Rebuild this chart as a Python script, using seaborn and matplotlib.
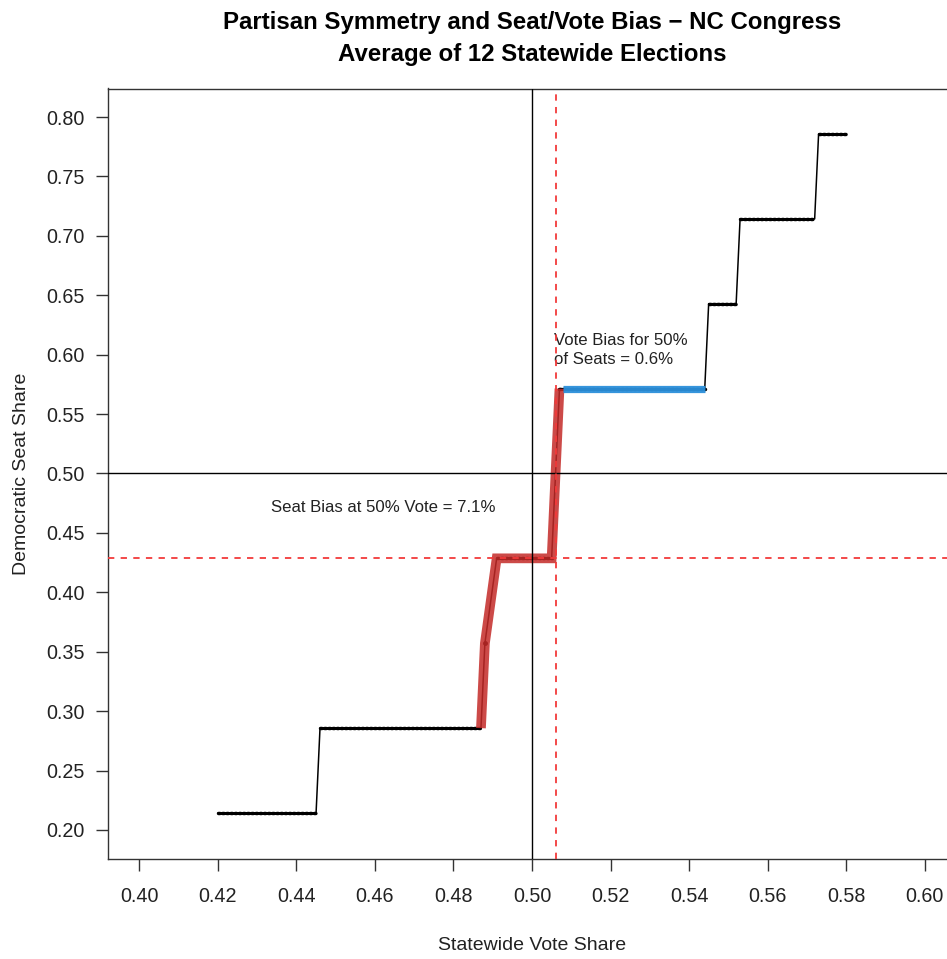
import numpy as np
import pandas as pd
import matplotlib
matplotlib.use("Agg")
import matplotlib.pyplot as plt
import seaborn as sns

# ---- data ----
# step levels of the seats/votes curve (Democratic seat share) and their vote-share extent
level_vote_start = [0.420, 0.446, 0.488, 0.491, 0.507, 0.545, 0.553, 0.573]
level_vote_end   = [0.445, 0.487, 0.488, 0.505, 0.544, 0.552, 0.572, 0.580]
level_seat_share = [0.2143, 0.2857, 0.3571, 0.4286, 0.5714, 0.6429, 0.7143, 0.7857]

# highlighted part of the curve (seat bias, red) and the 50%-seat flat (vote bias, blue)
red_vote = [0.487, 0.488, 0.491, 0.505, 0.507]
red_seat = [0.2857, 0.3571, 0.4286, 0.4286, 0.5714]
blue_vote = [0.508, 0.544]
blue_seat = [0.5714, 0.5714]

seat_at_half_vote = 0.4286
vote_at_half_seats = 0.506

x_ticks = [0.40, 0.42, 0.44, 0.46, 0.48, 0.50, 0.52, 0.54, 0.56, 0.58, 0.60]
y_ticks = [0.20, 0.25, 0.30, 0.35, 0.40, 0.45, 0.50, 0.55, 0.60, 0.65, 0.70, 0.75, 0.80]

title = "Partisan Symmetry and Seat/Vote Bias \u2212 NC Congress\nAverage of 12 Statewide Elections"
x_label = "Statewide Vote Share"
y_label = "Democratic Seat Share"
seat_note = "Seat Bias at 50% Vote = 7.1%"
vote_note = "Vote Bias for 50%\nof Seats = 0.6%"

# ---- figure ----
sns.set_theme(style="ticks")
plt.rcParams["font.family"] = ["Liberation Sans", "DejaVu Sans"]
plt.rcParams["axes.unicode_minus"] = True

fig = plt.figure(figsize=(9.47, 9.59), dpi=100)
W, H = 947, 959
ax = fig.add_axes([108 / W, (H - 858.5) / H, (956 - 108) / W, (858.5 - 88.5) / H])

# full curve path (thin connecting line)
path_x, path_y = [], []
for s, e, v in zip(level_vote_start, level_vote_end, level_seat_share):
    path_x += [s, e]
    path_y += [v, v]
curve = pd.DataFrame({"vote": path_x, "seat": path_y})
sns.lineplot(data=curve, x="vote", y="seat", ax=ax, sort=False, estimator=None,
             color="black", linewidth=1.1, zorder=3)

# dotted (beaded) flats
for s, e, v in zip(level_vote_start, level_vote_end, level_seat_share):
    seg = pd.DataFrame({"vote": [s, e], "seat": [v, v]})
    if e > s:
        sns.lineplot(data=seg, x="vote", y="seat", ax=ax, sort=False, estimator=None,
                     color="black", linewidth=2.5, linestyle=(0, (0.45, 0.75)),
                     dash_capstyle="round", zorder=3)
    else:
        ax.plot([s], [v], marker="o", markersize=2.5, color="black", zorder=3)

# highlights
sns.lineplot(x=red_vote, y=red_seat, ax=ax, sort=False, estimator=None,
             color="#c42a28", alpha=0.85, linewidth=7.0, zorder=4,
             solid_joinstyle="miter", solid_capstyle="butt")
sns.lineplot(x=blue_vote, y=blue_seat, ax=ax, sort=False, estimator=None,
             color="#2b8fda", alpha=0.95, linewidth=5.2, zorder=4,
             solid_capstyle="butt")

# reference lines
ax.axvline(0.5, color="black", linewidth=1.0, zorder=5)
ax.axhline(0.5, color="black", linewidth=1.0, zorder=5)
ax.axvline(vote_at_half_seats, color="#f23a3a", linewidth=1.3, linestyle=(0, (3.5, 3.5)), zorder=5)
ax.axhline(seat_at_half_vote, color="#f23a3a", linewidth=1.3, linestyle=(0, (3.5, 3.5)), zorder=5)

# annotations
ax.text(0.4621, 0.4711, seat_note, ha="center", va="center", fontsize=12.1, color="#222222")
ax.text(0.5057, 0.6040, vote_note, ha="left", va="center", fontsize=12.1, color="#222222",
        linespacing=1.35)

# axes styling
ax.set_xlim(0.392, 0.608)
ax.set_ylim(0.176, 0.824)
ax.set_xticks(x_ticks)
ax.set_yticks(y_ticks)
ax.set_xticklabels([f"{t:.2f}" for t in x_ticks])
ax.set_yticklabels([f"{t:.2f}" for t in y_ticks])
ax.tick_params(axis="both", which="major", bottom=True, left=True, top=False, right=False,
               direction="out", length=8.6, width=1.0, color="#333333",
               labelsize=14.2, labelcolor="#222222")
ax.tick_params(axis="x", pad=12)
ax.tick_params(axis="y", pad=8.5)
for sp in ax.spines.values():
    sp.set_visible(True)
    sp.set_color("#333333")
    sp.set_linewidth(1.0)
ax.grid(False)

ax.set_xlabel(x_label, fontsize=14, color="#222222", labelpad=22.5)
ax.set_ylabel(y_label, fontsize=14, color="#222222", labelpad=11)
ax.set_title(title, fontsize=17.3, fontweight="bold", color="black", pad=20, linespacing=1.5)

fig.savefig("out.png", dpi=100)
